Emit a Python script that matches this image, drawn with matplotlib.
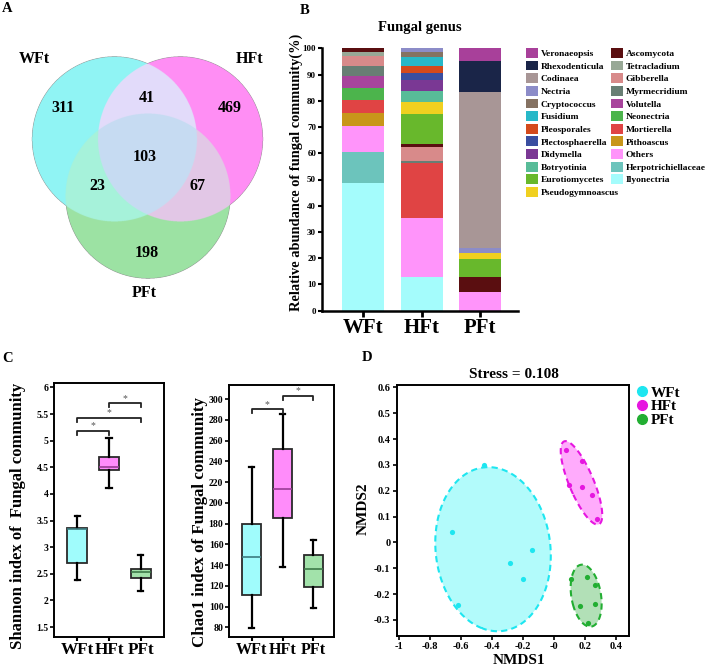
import numpy as np
import matplotlib
matplotlib.use('Agg')
import matplotlib.pyplot as plt
from matplotlib.patches import Polygon
from matplotlib.lines import Line2D
from matplotlib.patches import Patch
import matplotlib.colors as mcolors

plt.rcParams['font.family'] = ['Liberation Serif', 'DejaVu Serif']
plt.rcParams['font.weight'] = 'bold'
plt.rcParams['axes.labelweight'] = 'bold'

# ---------------- data ----------------
groups = ['WFt', 'HFt', 'PFt']

# Venn (A)
venn_regions = ['W', 'H', 'P', 'WH', 'WP', 'HP', 'WHP']
venn_counts = [311, 469, 198, 41, 23, 67, 103]

# Stacked bars (B): stacking order bottom -> top
genera = ['Ilyonectria', 'Herpotrichiellaceae', 'Others', 'Pithoascus', 'Mortierella',
          'Neonectria', 'Volutella', 'Myrmecridium', 'Gibberella', 'Tetracladium',
          'Ascomycota', 'Eurotiomycetes', 'Pseudogymnoascus', 'Botryotinia', 'Didymella',
          'Plectosphaerella', 'Pleosporales', 'Fusidium', 'Cryptococcus', 'Nectria',
          'Codinaea', 'Rhexodenticula', 'Veronaeopsis']
abund_WFt = [48.5, 12.0, 9.9, 5.0, 5.0, 4.6, 4.5, 3.8, 3.7, 1.6, 1.4, 0, 0, 0, 0,
             0, 0, 0, 0, 0, 0, 0, 0]
abund_HFt = [13.0, 0, 22.3, 0, 20.9, 0, 0, 1.0, 5.3, 0, 1.0, 11.5, 4.5, 4.1, 4.2,
             2.8, 2.8, 3.2, 2.1, 1.3, 0, 0, 0]
abund_PFt = [0, 0, 7.0, 0, 0, 0, 0, 0, 0, 0, 6.0, 6.8, 2.3, 0, 0,
             0, 0, 0, 0, 1.9, 59.5, 11.7, 4.8]
legend_col1 = ['Veronaeopsis', 'Rhexodenticula', 'Codinaea', 'Nectria', 'Cryptococcus',
               'Fusidium', 'Pleosporales', 'Plectosphaerella', 'Didymella', 'Botryotinia',
               'Eurotiomycetes', 'Pseudogymnoascus']
legend_col2 = ['Ascomycota', 'Tetracladium', 'Gibberella', 'Myrmecridium', 'Volutella',
               'Neonectria', 'Mortierella', 'Pithoascus', 'Others', 'Herpotrichiellaceae',
               'Ilyonectria']
genus_colors = {
    'Veronaeopsis': '#a8409a', 'Rhexodenticula': '#1a2548', 'Codinaea': '#a89696',
    'Nectria': '#8c8cc8', 'Cryptococcus': '#857262', 'Fusidium': '#28b8c8',
    'Pleosporales': '#d44a1c', 'Plectosphaerella': '#3a4ea0', 'Didymella': '#7a3894',
    'Botryotinia': '#58bc98', 'Eurotiomycetes': '#68b82c', 'Pseudogymnoascus': '#f0d020',
    'Ascomycota': '#5a0e10', 'Tetracladium': '#98a896', 'Gibberella': '#d88a8a',
    'Myrmecridium': '#687e74', 'Volutella': '#a8449c', 'Neonectria': '#4cb44c',
    'Mortierella': '#e04444', 'Pithoascus': '#c8961a', 'Others': '#ff94fa',
    'Herpotrichiellaceae': '#6cc4bc', 'Ilyonectria': '#a4fcfc'}

# Box plots (C)
sh_whislo = [2.39, 4.11, 2.18]
sh_q1 = [2.71, 4.45, 2.43]
sh_med = [3.34, 4.51, 2.54]
sh_q3 = [3.37, 4.70, 2.60]
sh_whishi = [3.59, 5.05, 2.85]
sh_brackets = [(0, 1, 5.18), (0, 2, 5.43), (1, 2, 5.70)]

ch_whislo = [79.8, 137.9, 98.4]
ch_q1 = [111.6, 185.0, 119.0]
ch_med = [147.5, 213.6, 136.0]
ch_q3 = [180.0, 251.8, 149.8]
ch_whishi = [234.8, 285.2, 163.9]
ch_brackets = [(0, 1, 290), (1, 2, 303)]

# NMDS (D)
nmds_WFt_x = [-0.452, -0.660, -0.138, -0.284, -0.200, -0.621]
nmds_WFt_y = [0.300, 0.039, -0.031, -0.079, -0.142, -0.244]
nmds_HFt_x = [0.080, 0.183, 0.099, 0.185, 0.247, 0.280]
nmds_HFt_y = [0.356, 0.315, 0.222, 0.215, 0.185, 0.090]
nmds_PFt_x = [0.114, 0.213, 0.265, 0.172, 0.269, 0.222]
nmds_PFt_y = [-0.142, -0.132, -0.165, -0.247, -0.240, -0.310]
stress = 0.108

# ---------------- figure ----------------
W, H = 708, 668
fig = plt.figure(figsize=(W / 100, H / 100), dpi=100)


def ax_px(l, t, r, b):
    return fig.add_axes([l / W, 1 - b / H, (r - l) / W, (b - t) / H])


def ftext(x, y, s, **kw):
    return fig.text(x / W, 1 - y / H, s, **kw)


# ---- panel labels
for lab, (x, y) in zip('ABCD', [(2, 2), (300, 4), (2, 352), (362, 351)]):
    ftext(x, y, lab, fontsize=10.5, fontweight='bold', ha='left', va='top')

# ---- A: Venn
axv = ax_px(0, 0, 290, 320)
axv.set_xlim(0, 290)
axv.set_ylim(320, 0)
axv.axis('off')
centers = {'W': (114.5, 139.0), 'H': (180.5, 139.0), 'P': (148.0, 196.0)}
radius = 82.5
region_colors = {'W': '#90f4f4', 'H': '#ff8ef4', 'P': '#9ce2a4', 'WH': '#e2dcfa',
                 'WP': '#a6f2da', 'HP': '#e2c8e6', 'WHP': '#c6dcf2'}
ss = 4
gx = np.linspace(0, 290, 290 * ss)
gy = np.linspace(0, 320, 320 * ss)
XX, YY = np.meshgrid(gx, gy)
inside = {k: (XX - c[0]) ** 2 + (YY - c[1]) ** 2 <= radius ** 2 for k, c in centers.items()}
img = np.zeros(XX.shape + (4,))
for reg in venn_regions:
    m = np.ones(XX.shape, bool)
    for k in 'WHP':
        m &= inside[k] if k in reg else ~inside[k]
    img[m] = mcolors.to_rgba(region_colors[reg])
axv.imshow(img, extent=(0, 290, 320, 0), interpolation='antialiased', zorder=1)
count_pos = {'W': (63, 108), 'H': (230, 108), 'P': (147, 253), 'WH': (147, 98),
             'WP': (97, 186), 'HP': (198, 186), 'WHP': (145, 157)}
for reg, cnt in zip(venn_regions, venn_counts):
    axv.text(*count_pos[reg], str(cnt), fontsize=11.5, fontweight='bold',
             ha='center', va='center', zorder=3)
for name, pos in zip(groups, [(34, 59), (250, 59), (144, 293)]):
    axv.text(*pos, name, fontsize=11.5, fontweight='bold', ha='center', va='center')

# ---- B: stacked bars
axb = ax_px(321.7, 48.3, 518, 310.7)
xpos = np.arange(1, 4)
data = np.array([abund_WFt, abund_HFt, abund_PFt])
bottom = np.zeros(3)
handles = {}
for i, g in enumerate(genera):
    vals = data[:, i]
    axb.bar(xpos, vals, bottom=bottom, width=0.715, color=genus_colors[g],
            linewidth=0, label=g)
    handles[g] = Patch(facecolor=genus_colors[g], edgecolor='none')
    bottom += vals
axb.set_xlim(0.288, 3.65)
axb.set_ylim(0, 100)
axb.set_yticks(np.arange(0, 101, 10))
axb.set_xticks(xpos)
axb.set_xticklabels(groups, fontsize=15, fontweight='bold')
axb.tick_params(axis='y', labelsize=6.5, length=3, width=1.5, pad=1)
axb.tick_params(axis='x', length=4, width=2, pad=1)
for s in ['top', 'right']:
    axb.spines[s].set_visible(False)
for s in ['left', 'bottom']:
    axb.spines[s].set_linewidth(1.8)
ftext(420, 28, 'Fungal genus', fontsize=10.5, fontweight='bold', ha='center', va='center')
ftext(296, 172, 'Relative abundance of fungal community(%)', fontsize=10.4, fontweight='bold',
      rotation=90, ha='center', va='center')
for col, x0 in [(legend_col1, 526), (legend_col2, 611)]:
    fig.legend([handles[g] for g in col], col, loc='upper left',
               bbox_to_anchor=(x0 / W, 1 - 48 / H), bbox_transform=fig.transFigure,
               frameon=False, fontsize=6.8, handlelength=1.22, handleheight=1.22,
               handletextpad=0.35, labelspacing=0.27, borderpad=0, borderaxespad=0)

# ---- C: box plots
box_colors = ['#a0fcfc', '#ff8cfa', '#a2e2aa']
median_colors = ['#3c7c80', '#9a3c96', '#3c7a48']


def draw_box(ax, lo, q1, med, q3, hi, brackets, ylim, yticks, yfmt, xlim, xfs, dy):
    stats = [dict(whislo=lo[i], q1=q1[i], med=med[i], q3=q3[i], whishi=hi[i], label=groups[i])
             for i in range(3)]
    bp = ax.bxp(stats, positions=[1, 2, 3], widths=0.62, patch_artist=True, showfliers=False,
                boxprops=dict(edgecolor='#2a2a2a', linewidth=1.3),
                whiskerprops=dict(color='black', linewidth=1.6),
                capprops=dict(color='black', linewidth=1.6),
                medianprops=dict(linewidth=1.2), capwidths=0.16)
    for p, c in zip(bp['boxes'], box_colors):
        p.set_facecolor(c)
    for m, c in zip(bp['medians'], median_colors):
        m.set_color(c)
    for a, b, y in brackets:
        ax.plot([a + 1, a + 1, b + 1, b + 1], [y - dy, y, y, y - dy], color='#222222', lw=1.3)
        ax.text((a + b) / 2 + 1, y + dy * 0.2, '*', ha='center', va='bottom', fontsize=7,
                color='#555555', fontweight='normal')
    ax.set_xlim(*xlim)
    ax.set_ylim(*ylim)
    ax.set_yticks(yticks)
    ax.set_yticklabels([yfmt(v) for v in yticks])
    ax.set_xticks([1, 2, 3])
    ax.set_xticklabels(groups, fontsize=xfs, fontweight='bold')
    ax.tick_params(axis='y', labelsize=7, length=3, width=1.2, pad=1)
    ax.tick_params(axis='x', length=3, width=1.5, pad=1)
    for s in ax.spines.values():
        s.set_linewidth(1.4)


axs = ax_px(54.3, 382.7, 164, 636.7)
draw_box(axs, sh_whislo, sh_q1, sh_med, sh_q3, sh_whishi, sh_brackets,
         (1.32, 6.09), np.arange(1.5, 6.01, 0.5), lambda v: f'{v:g}', (0.28, 3.73), 12.3, 0.07)
ftext(18, 516, 'Shannon index of  Fungal community', fontsize=12, fontweight='bold',
      rotation=90, ha='center', va='center')

axc = ax_px(229, 385, 334.3, 636.7)
draw_box(axc, ch_whislo, ch_q1, ch_med, ch_q3, ch_whishi, ch_brackets,
         (71, 313.5), np.arange(80, 301, 20), lambda v: f'{v:g}', (0.26, 3.68), 11.6, 3.5)
ftext(200, 522, 'Chao1 index of Fungal community', fontsize=12.2, fontweight='bold',
      rotation=90, ha='center', va='center')

# ---- D: NMDS
axn = ax_px(396.7, 385, 629.3, 636)
nmds_sets = [(nmds_WFt_x, nmds_WFt_y), (nmds_HFt_x, nmds_HFt_y), (nmds_PFt_x, nmds_PFt_y)]
pt_colors = ['#1ee6f0', '#e616e0', '#22ae32']
fill_colors = ['#00f4f4', '#ff22f8', '#10a020']
fill_alpha = [0.30, 0.38, 0.32]


def cov_ellipse(x, y, scale=1.7, n=240):
    x = np.asarray(x)
    y = np.asarray(y)
    vals, vecs = np.linalg.eigh(np.cov(x, y))
    t = np.linspace(0, 2 * np.pi, n)
    pts = vecs @ (np.sqrt(vals)[:, None] * np.stack([np.cos(t), np.sin(t)])) * scale
    return np.column_stack([x.mean() + pts[0], y.mean() + pts[1]])


for (x, y), pc, fc, fa in zip(nmds_sets, pt_colors, fill_colors, fill_alpha):
    poly = cov_ellipse(x, y)
    axn.add_patch(Polygon(poly, closed=True, facecolor=mcolors.to_rgba(fc, fa),
                          edgecolor=pc, lw=1.5, ls=(0, (3, 2)), zorder=2))
    axn.scatter(x, y, s=14, color=pc, zorder=3, linewidths=0)
axn.set_xlim(-1.015, 0.488)
axn.set_ylim(-0.362, 0.609)
xt = np.round(np.arange(-1.0, 0.41, 0.2), 1)
yt = np.round(np.arange(-0.3, 0.61, 0.1), 1)
axn.set_xticks(xt)
axn.set_xticklabels([f'{v:g}' for v in xt])
axn.set_yticks(yt)
axn.set_yticklabels([f'{v:g}' for v in yt])
axn.tick_params(labelsize=7.5, length=3, width=1.2, pad=1.5)
for s in axn.spines.values():
    s.set_linewidth(1.4)
ftext(514, 375, f'Stress = {stress}', fontsize=11, fontweight='bold', ha='center', va='center')
ftext(519, 661, 'NMDS1', fontsize=11, fontweight='bold', ha='center', va='center')
ftext(363, 509, 'NMDS2', fontsize=11, fontweight='bold', rotation=90, ha='center', va='center')
leg_h = [Line2D([], [], marker='o', ls='', color=c, markersize=7) for c in pt_colors]
fig.legend(leg_h, groups, loc='upper left', bbox_to_anchor=(636 / W, 1 - 386 / H),
           bbox_transform=fig.transFigure, frameon=False, fontsize=11,
           handlelength=0.8, handletextpad=0.15, labelspacing=0.0, borderpad=0,
           borderaxespad=0)

fig.savefig('out.png', dpi=100)
